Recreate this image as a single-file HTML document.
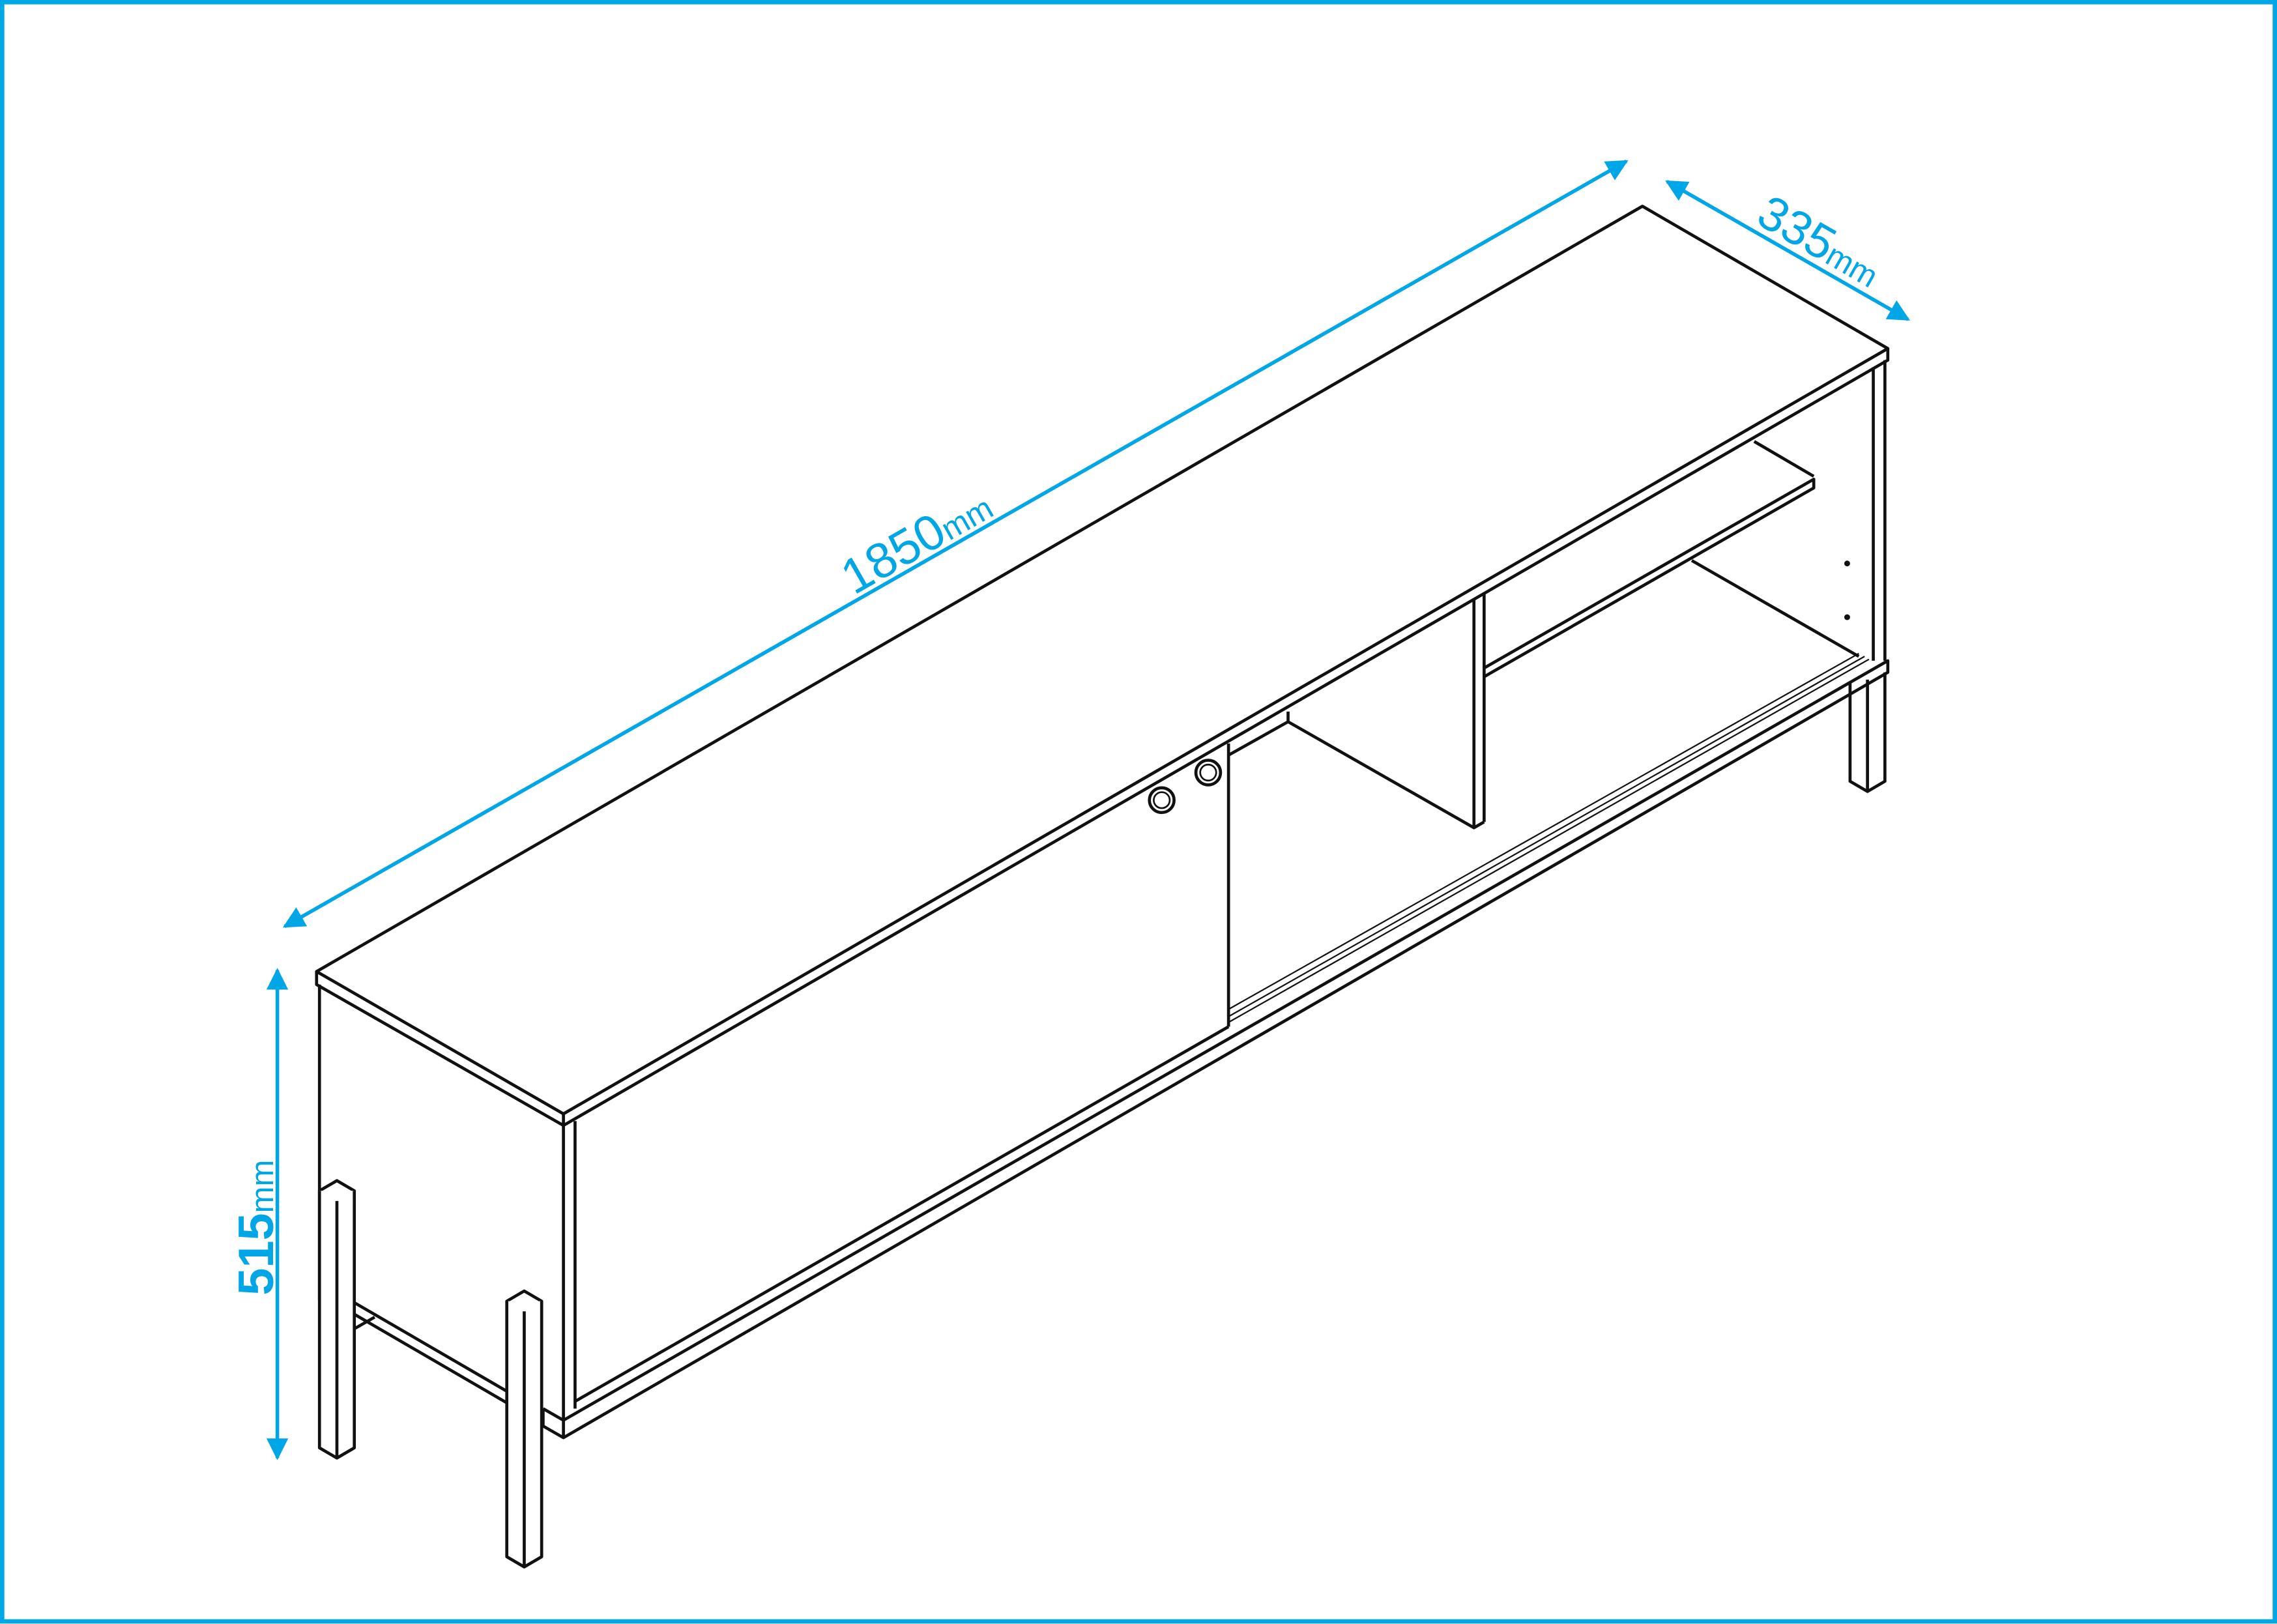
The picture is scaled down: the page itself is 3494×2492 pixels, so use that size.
<!DOCTYPE html>
<html><head><meta charset="utf-8"><style>html,body{margin:0;padding:0;background:#fff}svg{display:block}</style></head>
<body>
<svg width="3494" height="2492" viewBox="0 0 1568 1118.3" preserveAspectRatio="none" xmlns="http://www.w3.org/2000/svg">
<defs>
<marker id="a" viewBox="0 0 10 10" refX="9" refY="5" markerWidth="6" markerHeight="6" orient="auto-start-reverse"><path d="M0,0L10,5L0,10z" fill="#00a6e6"/></marker>
</defs>
<rect x="1.5" y="1.5" width="1565" height="1115" fill="#fff" stroke="#00a6e6" stroke-width="3"/>
<g fill="none" stroke="#111" stroke-width="2.1" stroke-linejoin="round">
<path d="M218,669L1131,142L1300,240L388,767Z" fill="#fff"/>
<path d="M218,669L218,678L388,775L1300,248L1300,240"/>
<path d="M388,767L388,775"/>
<path d="M220,678L220,895"/>
<path d="M388,775L388,978M396,772L396,970"/>
<path d="M1290,253L1290,455M1298,248L1298,455"/>
<path d="M846,512L846,707M396,965L846,707"/>
<path d="M846,520L887,497L887,490"/>
<path d="M887,497L1015,570L1022,566"/>
<path d="M1015,412L1015,570M1022,408L1022,566"/>
<path d="M1022,460L1249,330L1249,336L1022,466"/>
<path d="M1208,304L1249,328"/>
<path d="M1165,386L1280,452"/>
<path d="M846,695L1280,450M846,700L1284,452M846,704L1287,454" stroke-width="1"/>
<path d="M374,970L388,978L1300,455L1300,463L388,990L374,982L374,970"/>
<path d="M388,978L388,990"/>
<path d="M1274,470L1274,538L1286,545L1298,538L1298,463M1286,545L1286,468"/>
<path d="M244,897L349,958M244,905L349,966M244,915L258,907" />
<path d="M220,820L232,813L244,820L232,827Z" fill="#fff"/>
<path d="M220,820L220,997L232,1004L244,997L244,820M232,827L232,1004" fill="#fff"/>
<path d="M349,896L361,889L373,896L361,903Z" fill="#fff"/>
<path d="M349,896L349,1072L361,1079L373,1072L373,896M361,903L361,1079" fill="#fff"/>
<circle cx="800" cy="551" r="8.5"/><circle cx="800" cy="551" r="5.5" stroke-width="1.2"/>
<circle cx="832" cy="532" r="8.5"/><circle cx="832" cy="532" r="5.5" stroke-width="1.2"/>
</g>
<circle cx="1272" cy="388" r="2" fill="#111"/><circle cx="1272" cy="425" r="2" fill="#111"/>
<g stroke="#00a6e6" stroke-width="2.5" fill="none">
<line x1="196" y1="638" x2="1120" y2="111" marker-start="url(#a)" marker-end="url(#a)"/>
<line x1="1148" y1="125" x2="1314" y2="220" marker-start="url(#a)" marker-end="url(#a)"/>
<line x1="191" y1="668" x2="191" y2="1004" marker-start="url(#a)" marker-end="url(#a)"/>
</g>
<g fill="#00a6e6" font-family="'Liberation Sans', sans-serif">
<text transform="translate(588,410) rotate(-29.7)" font-size="34">1850<tspan font-size="22">mm</tspan></text>
<text transform="translate(1208,153) rotate(29.8)" font-size="33">335<tspan font-size="22">mm</tspan></text>
<text transform="translate(188,892) rotate(-90)" font-size="34" font-weight="bold">515<tspan font-size="22" font-weight="normal">mm</tspan></text>
</g>
</svg>
</body></html>
